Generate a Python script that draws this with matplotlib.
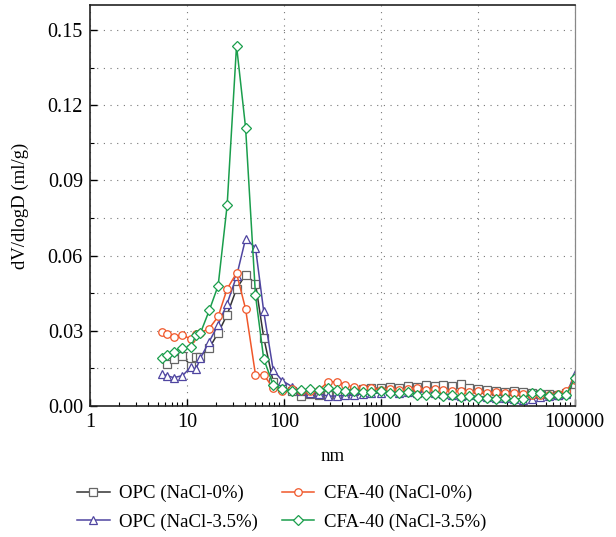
import numpy as np
import matplotlib
matplotlib.use("Agg")
import matplotlib.pyplot as plt
from matplotlib.ticker import MultipleLocator, LogLocator, NullFormatter

nan = np.nan

# pore diameter (nm)
diam = [5.5, 6.2, 7.3, 9.0, 11.0, 12.4, 13.8, 17.0, 21.0, 26.0, 32.5, 40.3, 51.0, 62.0,
        77.6, 96, 122, 151, 185, 230, 286, 350, 430, 530, 650, 800, 1000, 1250, 1550,
        1900, 2350, 2900, 3600, 4400, 5400, 6700, 8200, 10000, 12500, 15500, 19000,
        23500, 29000, 36000, 44000, 54000, 67000, 82000, 100000]

opc_0 = [nan, 0.0168, 0.0187, 0.0200, 0.0160, 0.0197, 0.0195, 0.0231, 0.0291, 0.0364,
         0.0467, 0.0524, 0.0488, 0.0273, 0.0097, 0.0072, 0.0061, 0.0038, 0.0048, 0.0043,
         0.0045, 0.0048, 0.0052, 0.0058, 0.0066, 0.0070, 0.0072, 0.0075, 0.0072, 0.0078,
         0.0074, 0.0083, 0.0080, 0.0085, 0.0078, 0.0088, 0.0072, 0.0068, 0.0062, 0.0058,
         0.0055, 0.0060, 0.0055, 0.0050, 0.0048, 0.0046, 0.0045, 0.0050, 0.0087]

cfa_0 = [0.0297, 0.0286, 0.0275, 0.0284, 0.0266, 0.0286, 0.0292, 0.0309, 0.0357, 0.0467,
         0.0530, 0.0387, 0.0124, 0.0124, 0.0072, 0.0061, 0.0067, 0.0060, 0.0060, 0.0063,
         0.0097, 0.0096, 0.0085, 0.0075, 0.0072, 0.0070, 0.0065, 0.0068, 0.0062, 0.0066,
         0.0072, 0.0064, 0.0066, 0.0062, 0.0058, 0.0060, 0.0055, 0.0058, 0.0052, 0.0055,
         0.0052, 0.0050, 0.0048, 0.0045, 0.0042, 0.0044, 0.0048, 0.0060, 0.0105]

opc_35 = [0.0128, 0.0121, 0.0113, 0.0121, 0.0155, 0.0147, 0.0191, 0.0257, 0.0324, 0.0408,
          0.0517, 0.0667, 0.0631, 0.0377, 0.0144, 0.0101, 0.0077, 0.0060, 0.0053, 0.0049,
          0.0039, 0.0040, 0.0042, 0.0045, 0.0048, 0.0050, 0.0052, 0.0058, 0.0052, 0.0055,
          0.0050, 0.0060, 0.0052, 0.0048, 0.0045, 0.0040, 0.0042, 0.0038, 0.0035, 0.0032,
          0.0030, 0.0028, 0.0025, 0.0028, 0.0035, 0.0040, 0.0042, 0.0048, 0.0127]

cfa_35 = [0.0191, 0.0204, 0.0217, 0.0231, 0.0235, 0.0284, 0.0291, 0.0381, 0.0480, 0.0800,
          0.1437, 0.1110, 0.0441, 0.0188, 0.0084, 0.0068, 0.0061, 0.0063, 0.0067, 0.0063,
          0.0071, 0.0062, 0.0060, 0.0058, 0.0056, 0.0055, 0.0060, 0.0052, 0.0050, 0.0056,
          0.0045, 0.0042, 0.0048, 0.0040, 0.0044, 0.0036, 0.0040, 0.0032, 0.0030, 0.0028,
          0.0030, 0.0025, 0.0028, 0.0052, 0.0050, 0.0040, 0.0042, 0.0045, 0.0110]

labels = ["OPC (NaCl-0%)", "OPC (NaCl-3.5%)", "CFA-40 (NaCl-0%)", "CFA-40 (NaCl-3.5%)"]
colors = ["#333333", "#4f45a0", "#f0572a", "#1a9e4c"]
markers = ["s", "^", "o", "D"]
series = [opc_0, opc_35, cfa_0, cfa_35]

plt.rcParams["font.family"] = ["Liberation Serif", "DejaVu Serif"]
plt.rcParams["font.size"] = 13.5

fig = plt.figure(figsize=(6.16, 5.37), dpi=100)
ax = fig.add_axes([0.146, 0.244, 0.787, 0.747])

for y, lab, c, m in zip(series, labels, colors, markers):
    ms = 4.6 if m == "D" else 5.4
    mec = "#666666" if m == "s" else c
    ax.plot(diam, y, color=c, lw=1.1, marker=m, ms=ms, mfc="white", mec=mec,
            mew=0.9, label=lab)

ax.set_xscale("log")
ax.set_xlim(1, 100000)
ax.set_ylim(0, 0.16)
ax.yaxis.set_minor_locator(MultipleLocator(0.015))
ax.set_yticks([0, 0.03, 0.06, 0.09, 0.12, 0.15])
ax.set_yticklabels(["0.00", "0.03", "0.06", "0.09", "0.12", "0.15"])
ax.set_xticks([1, 10, 100, 1000, 10000, 100000])
ax.set_xticklabels(["1", "10", "100", "1000", "10000", "100000"])
ax.xaxis.set_minor_locator(LogLocator(base=10, subs=np.arange(2, 10), numticks=20))
ax.xaxis.set_minor_formatter(NullFormatter())

ax.tick_params(which="both", direction="in", top=False, right=False, labelsize=14.5)
ax.tick_params(which="major", length=5, width=1, pad=5)
ax.tick_params(which="minor", length=3, width=0.8)

ax.grid(True, which="major", axis="x", ls=(0, (1, 5)), color="#777777", lw=0.8)
ax.grid(True, which="both", axis="y", ls=(0, (1, 5)), color="#777777", lw=0.8)

for s in ["left", "bottom", "top"]:
    ax.spines[s].set_linewidth(1.2)
    ax.spines[s].set_color("#222222")
ax.spines["right"].set_color("#888888")
ax.spines["right"].set_linewidth(0.9)

ax.set_xlabel("nm")
ax.set_ylabel("dV/dlogD (ml/g)")
ax.xaxis.set_label_coords(0.5, -0.105)
ax.yaxis.set_label_coords(-0.125, 0.5)

fig.legend(loc="upper left", bbox_to_anchor=(0.125, 0.097), ncol=2, frameon=False,
           fontsize=13.5, handlelength=1.75, handletextpad=0.5, columnspacing=1.25,
           labelspacing=0.6, borderpad=0, borderaxespad=0)

fig.savefig("out.png", dpi=100)
